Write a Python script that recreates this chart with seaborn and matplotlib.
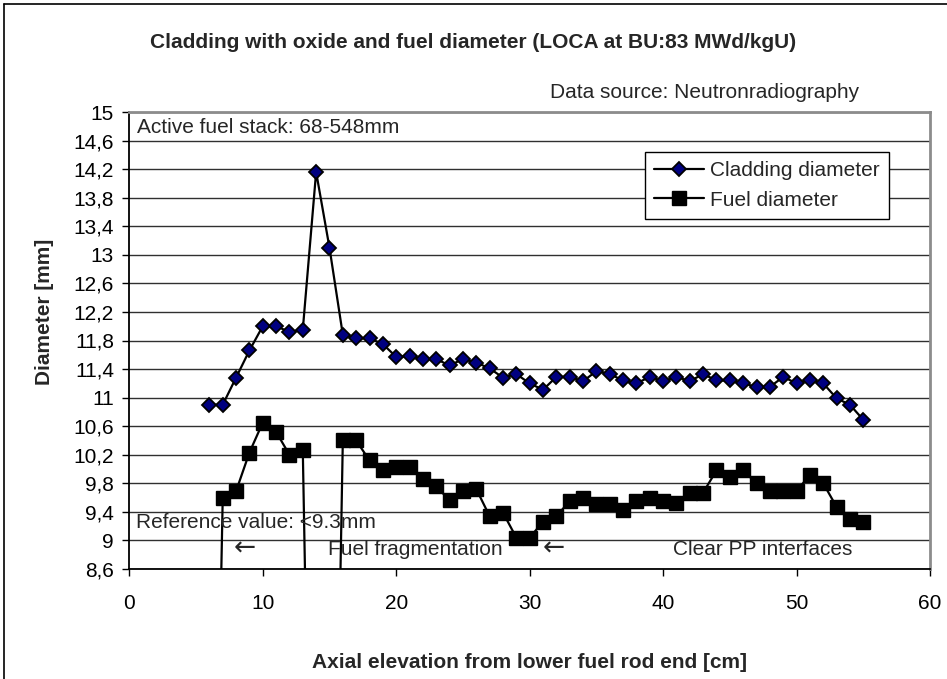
import matplotlib
matplotlib.use('Agg')
import matplotlib.pyplot as plt
from matplotlib.lines import Line2D
import seaborn as sns
import pandas as pd

# axial elevation [cm]
elevation_cm = [6, 7, 8, 9, 10, 11, 12, 13, 14, 15,
                16, 17, 18, 19, 20, 21, 22, 23, 24, 25,
                26, 27, 28, 29, 30, 31, 32, 33, 34, 35,
                36, 37, 38, 39, 40, 41, 42, 43, 44, 45,
                46, 47, 48, 49, 50, 51, 52, 53, 54, 55]

cladding_mm = [10.90, 10.90, 11.28, 11.66, 12.00, 12.00, 11.92, 11.95, 14.16, 13.10,
               11.88, 11.83, 11.83, 11.75, 11.57, 11.58, 11.54, 11.54, 11.45, 11.54,
               11.49, 11.41, 11.28, 11.33, 11.20, 11.11, 11.29, 11.29, 11.23, 11.37,
               11.33, 11.24, 11.20, 11.29, 11.23, 11.29, 11.23, 11.33, 11.24, 11.24,
               11.20, 11.15, 11.15, 11.29, 11.20, 11.25, 11.20, 10.99, 10.90, 10.69]

# 0 = no fuel found (drawn off the bottom of the chart)
fuel_mm = [0.00, 9.59, 9.69, 10.23, 10.65, 10.52, 10.20, 10.27, 0.00, 0.00,
           10.40, 10.40, 10.12, 9.99, 10.03, 10.03, 9.86, 9.76, 9.56, 9.69,
           9.72, 9.34, 9.39, 9.04, 9.04, 9.26, 9.34, 9.55, 9.59, 9.51,
           9.51, 9.42, 9.55, 9.59, 9.55, 9.52, 9.67, 9.67, 9.98, 9.89,
           9.98, 9.80, 9.69, 9.69, 9.69, 9.92, 9.80, 9.47, 9.30, 9.26]

y_ticks = [8.6, 9.0, 9.4, 9.8, 10.2, 10.6, 11.0, 11.4, 11.8, 12.2,
           12.6, 13.0, 13.4, 13.8, 14.2, 14.6, 15.0]
y_tick_labels = ['8,6', '9', '9,4', '9,8', '10,2', '10,6', '11', '11,4', '11,8', '12,2',
                 '12,6', '13', '13,4', '13,8', '14,2', '14,6', '15']
x_ticks = [0, 10, 20, 30, 40, 50, 60]

sns.set_theme(style='white')
plt.rcParams['font.family'] = ['Liberation Sans', 'DejaVu Sans']
FS = 15

fig = plt.figure(figsize=(9.47, 6.79), dpi=100)
ax = fig.add_axes([129.3 / 947, 1 - 569 / 679, (930 - 129.3) / 947, (569 - 112) / 679])

df_clad = pd.DataFrame({'elevation': elevation_cm, 'diameter': cladding_mm})
df_fuel = pd.DataFrame({'elevation': elevation_cm, 'diameter': fuel_mm})

sns.lineplot(data=df_clad, x='elevation', y='diameter', ax=ax, color='black', lw=1.6,
             marker='D', markersize=7.6, markerfacecolor='#000080',
             markeredgecolor='black', markeredgewidth=1.3, label='Cladding diameter')
sns.lineplot(data=df_fuel, x='elevation', y='diameter', ax=ax, color='black', lw=1.6,
             marker='s', markersize=10.5, markerfacecolor='black',
             markeredgecolor='black', markeredgewidth=1.0, label='Fuel diameter')

ax.set_xlim(0, 60)
ax.set_ylim(8.6, 15)
ax.set_xticks(x_ticks)
ax.set_xticklabels([str(t) for t in x_ticks])
ax.set_yticks(y_ticks)
ax.set_yticklabels(y_tick_labels)
ax.yaxis.grid(True, color='#303030', lw=1.0)
ax.xaxis.grid(False)
ax.set_axisbelow(True)
ax.set_xlabel('')
ax.set_ylabel('')

for s in ['top', 'right']:
    ax.spines[s].set_color('#8c8c8c')
    ax.spines[s].set_linewidth(2)
for s in ['left', 'bottom']:
    ax.spines[s].set_color('black')
    ax.spines[s].set_linewidth(1.3)

ax.tick_params(axis='both', direction='out', length=5, width=1, color='black',
               labelsize=FS, labelcolor='black', left=True, bottom=True)
ax.tick_params(axis='y', pad=6)
ax.tick_params(axis='x', pad=13)

leg = ax.legend(loc='upper right', bbox_to_anchor=(0.949, 0.9125), borderaxespad=0,
                fontsize=FS, frameon=True, fancybox=False, framealpha=1,
                edgecolor='black', handlelength=2.4, borderpad=0.45,
                labelspacing=0.5, handletextpad=0.3)
leg.get_frame().set_linewidth(1.0)

ax.text(0.55, 14.78, 'Active fuel stack: 68-548mm', fontsize=FS, va='center', ha='left')
ax.text(31.5, 15.27, 'Data source: Neutronradiography', fontsize=FS, va='center',
        ha='left', clip_on=False)
ax.text(0.5, 9.25, 'Reference value: <9.3mm', fontsize=FS, va='center', ha='left')
ax.text(8.66, 8.88, '\u2190', fontsize=19, va='center', ha='center',
        family=['DejaVu Sans'])
ax.text(14.92, 8.88, 'Fuel fragmentation', fontsize=FS, va='center', ha='left')
ax.text(31.82, 8.88, '\u2190', fontsize=19, va='center', ha='center',
        family=['DejaVu Sans'])
ax.text(40.77, 8.88, 'Clear PP interfaces', fontsize=FS, va='center', ha='left')

fig.text(473 / 947, 1 - 43 / 679,
         'Cladding with oxide and fuel diameter (LOCA at BU:83 MWd/kgU)',
         fontsize=FS, fontweight='bold', ha='center', va='center')
fig.text(529.5 / 947, 1 - 663 / 679, 'Axial elevation from lower fuel rod end [cm]',
         fontsize=FS, fontweight='bold', ha='center', va='center')
fig.text(45 / 947, 1 - 312 / 679, 'Diameter [mm]', fontsize=FS, fontweight='bold',
         rotation=90, ha='center', va='center')

# chart area border (left and top visible in the screenshot)
fig.add_artist(Line2D([4 / 947, 4 / 947], [0, 1 - 4 / 679], color='black', lw=1.2,
                      transform=fig.transFigure))
fig.add_artist(Line2D([4 / 947, 1], [1 - 4 / 679, 1 - 4 / 679], color='black', lw=1.2,
                      transform=fig.transFigure))

fig.savefig('out.png', dpi=100)
